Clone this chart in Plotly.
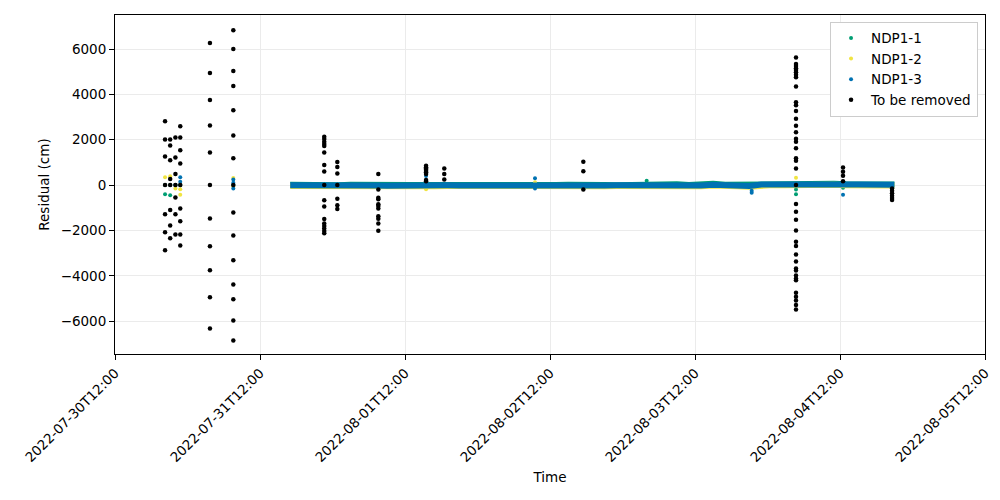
import pandas as pd
import plotly.graph_objects as go

# ---------------- data ----------------
series_names = ["NDP1-1", "NDP1-2", "NDP1-3"]
series_colors = ["#009E73", "#F0E442", "#0072B2"]

# dense band (2-hour samples from 2022-07-31 17:00 to 2022-08-04 21:00)
band_start = "2022-07-31 17:00"
band_step = "2h"
ndp1_band = [10, -5, 0, 5, -10, 15, 0, -5, 10, -10, 5, 0, -5, 15, 0, -10, 5, 10, -5, 0,
             10, -5, 0, 15, -10, 0, 5, -5, 10, 0,
             20, 10, 40, 0, 30, 60, 10, 20, -10,
             45, 50, 40, 55, 30, 50, 60, 40, 50, 55, 40, 30]
ndp2_band = [-40, -45, -30, -50, -35, -40, -45, -30, -50, -40, -45, -35, -50, -40, -30, -45, -50, -40, -35, -45,
             -40, -50, -30, -45, -40, -35, -50, -40, -45, -40,
             -60, -70, -40, -65, -50, -20, -60, -50, -70,
             -10, 0, -5, 10, -15, 0, 15, -5, 5, 10, -10, -20]
ndp3_band = [-10, -20, -15, -25, -10, -20, -15, -20, -25, -10, -15, -20, -20, -10, -15, -20, -25, -15, -10, -20,
             -20, -15, -25, -10, -15, -20, -15, -10, -20, -25,
             -30, -50, -10, -40, -20, 10, -30, -20, -45,
             20, 30, 25, 35, 20, 30, 40, 25, 30, 35, 20, 10]

# isolated points of each series
ndp1_pts_time = ["2022-07-30 20:17", "2022-07-30 21:08", "2022-07-30 20:17", "2022-07-30 21:08",
                 "2022-07-30 22:00", "2022-07-30 22:48", "2022-07-31 07:35", "2022-08-03 04:00",
                 "2022-08-04 04:43", "2022-08-04 04:43", "2022-08-04 12:30", "2022-08-04 12:30"]
ndp1_pts_vals = [-410, -450, 0, 0, 0, 0, 0, 190, -410, -190, -120, 60]

ndp2_pts_time = ["2022-07-30 20:17", "2022-07-30 21:08", "2022-07-30 22:00", "2022-07-30 22:48",
                 "2022-07-30 22:48", "2022-07-31 07:35", "2022-07-31 07:35", "2022-08-01 15:29",
                 "2022-08-02 09:31", "2022-08-04 04:43"]
ndp2_pts_vals = [340, 390, -150, -180, -430, 310, -60, -180, 120, 320]

ndp3_pts_time = ["2022-07-30 22:48", "2022-07-30 22:48", "2022-07-30 22:00", "2022-07-31 07:35",
                 "2022-07-31 07:35", "2022-07-31 07:35", "2022-08-01 15:29", "2022-08-02 09:31",
                 "2022-08-02 09:31", "2022-08-03 21:23", "2022-08-03 21:23", "2022-08-04 12:30",
                 "2022-08-04 20:37", "2022-08-04 20:37", "2022-08-04 04:43"]
ndp3_pts_vals = [340, 150, 0, 250, 100, -150, 400, 300, -150, -340, -250, -430, 0, -80, 50]

# points flagged "To be removed", grouped by time column
removed_times = ["2022-07-30 20:17", "2022-07-30 21:08", "2022-07-30 22:00", "2022-07-30 22:48",
                 "2022-07-31 03:43", "2022-07-31 07:35", "2022-07-31 22:38", "2022-08-01 00:48",
                 "2022-08-01 07:35", "2022-08-01 15:29", "2022-08-01 18:30", "2022-08-02 17:31",
                 "2022-08-04 04:43", "2022-08-04 12:30", "2022-08-04 20:37"]
removed_values = [
    [2810, 2015, 1265, 0, -1290, -2085, -2880],
    [2015, 1750, 1090, 265, 0, -1100, -1780, -2350],
    [2100, 1220, 485, 0, -545, -1290, -2175],
    [2590, 2100, 1530, 955, 0, -1030, -1600, -2175, -2660],
    [6260, 4940, 3750, 2630, 1440, 0, -1470, -2700, -3760, -4950, -6320],
    [6830, 6000, 5030, 4370, 3295, 2190, 1180, 0, -1205, -2220, -3320, -4380, -5040, -5970, -6850],
    [2130, 2030, 1910, 1810, 1720, 1440, 880, 600, 0, -675, -940, -1500, -1690, -1810, -1910, -2030, -2120],
    [1015, 795, 515, 0, -600, -895, -1060],
    [485, -190, -560, -630, -850, -925, -1030, -1380, -1485, -1690, -2015],
    [850, 790, 735, 680, 615, 560, 485, 220, 165],
    [735, 485, 250],
    [1030, 605, -190],
    [5630, 5340, 5250, 5150, 5070, 4970, 4870, 4750, 4350, 3650, 3515, 3265, 2925, 2615, 2325, 2040,
     1910, 1620, 1180, 1070, 735, 0, -840, -1175, -1530, -2000, -2500, -2690, -3060, -3370, -3675,
     -3765, -3985, -4120, -4200, -4750, -4925, -5090, -5290, -5485],
    [780, 590, 410, 165],
    [-150, -250, -365, -470, -575, -660],
]

x_ticks = ["2022-07-30 12:00", "2022-07-31 12:00", "2022-08-01 12:00", "2022-08-02 12:00",
           "2022-08-03 12:00", "2022-08-04 12:00", "2022-08-05 12:00"]
y_ticks = [-6000, -4000, -2000, 0, 2000, 4000, 6000]

# ---------------- figure ----------------
band_times = pd.date_range(band_start, periods=len(ndp1_band), freq=band_step)
bands = [ndp1_band, ndp2_band, ndp3_band]
pts = [(ndp1_pts_time, ndp1_pts_vals), (ndp2_pts_time, ndp2_pts_vals), (ndp3_pts_time, ndp3_pts_vals)]

fig = go.Figure()
for name, color, band, (pt, pv) in zip(series_names, series_colors, bands, pts):
    fig.add_trace(go.Scatter(x=band_times, y=band, mode="lines", line=dict(color=color, width=6),
                             legendgroup=name, showlegend=False, hoverinfo="skip"))
    fig.add_trace(go.Scatter(x=pd.to_datetime(pt), y=pv, mode="markers", name=name, legendgroup=name,
                             marker=dict(color=color, size=4, line=dict(width=0))))

rx, ry = [], []
for t, vals in zip(removed_times, removed_values):
    rx += [t] * len(vals)
    ry += vals
fig.add_trace(go.Scatter(x=pd.to_datetime(rx), y=ry, mode="markers", name="To be removed",
                         marker=dict(color="black", size=4.5, line=dict(width=0))))

font = dict(family="DejaVu Sans", size=13.5, color="black")
fig.update_layout(
    width=1000, height=500,
    margin=dict(l=115, r=15, t=15, b=146, autoexpand=False),
    paper_bgcolor="white", plot_bgcolor="white",
    font=font,
    legend=dict(x=0.992, y=0.98, xanchor="right", yanchor="top", bgcolor="white",
                bordercolor="#cccccc", borderwidth=1, font=dict(family="DejaVu Sans", size=13.5),
                itemsizing="trace", tracegroupgap=0),
)
fig.update_xaxes(
    range=[x_ticks[0], x_ticks[-1]], tickvals=x_ticks, tickformat="%Y-%m-%dT%H:%M",
    tickangle=-45, ticks="outside", ticklen=5, tickcolor="black", automargin=False,
    showline=True, linecolor="black", linewidth=1, mirror=True,
    showgrid=True, gridcolor="#ebebeb", gridwidth=1, zeroline=False,
    title=dict(text="Time", font=font, standoff=8),
)
fig.update_yaxes(
    range=[-7450, 7500], tickvals=y_ticks, ticks="outside", ticklen=5, tickcolor="black", automargin=False,
    showline=True, linecolor="black", linewidth=1, mirror=True,
    showgrid=True, gridcolor="#ebebeb", gridwidth=1, zeroline=False,
    title=dict(text="Residual (cm)", font=font, standoff=7),
)

fig.write_html("out.html")
